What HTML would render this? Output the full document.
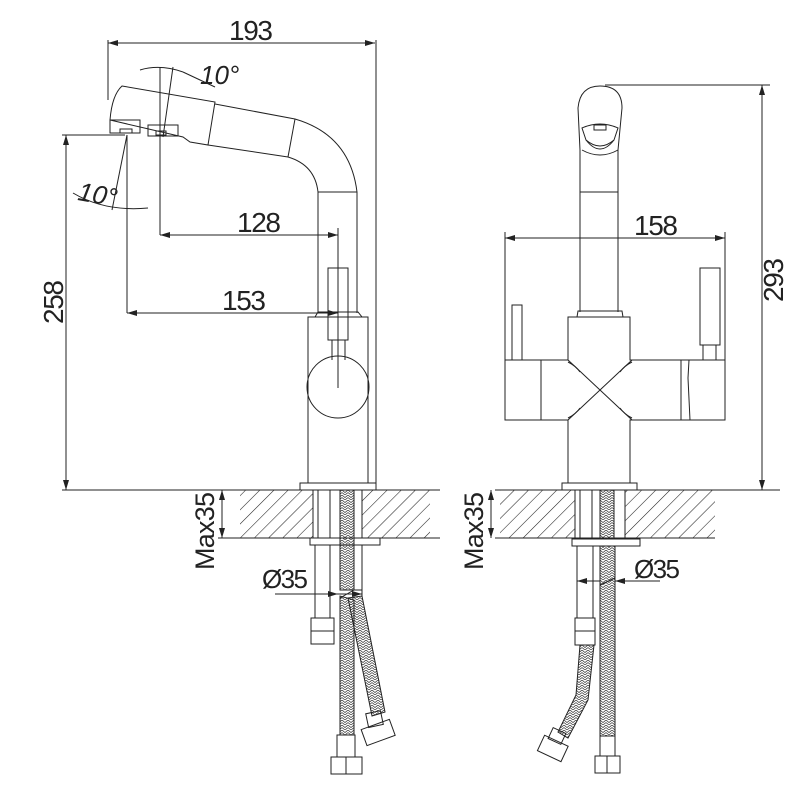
<!DOCTYPE html>
<html><head><meta charset="utf-8"><style>html,body{margin:0;padding:0;background:#fff}svg{display:block}</style></head>
<body>
<svg width="800" height="800" viewBox="0 0 800 800" xmlns="http://www.w3.org/2000/svg" font-family="'Liberation Sans', sans-serif" fill="none" stroke="#222" stroke-width="1">
<defs>
<pattern id="h" width="10" height="10" patternUnits="userSpaceOnUse" patternTransform="rotate(45)"><line x1="0" y1="0" x2="0" y2="10" stroke="#222" stroke-width="1.1"/></pattern>
<pattern id="b" width="6" height="5" patternUnits="userSpaceOnUse"><path d="M0 0 L3 2.5 L6 0 M0 2.5 L3 5 L6 2.5" stroke="#333" stroke-width="0.7" fill="none"/></pattern>
<marker id="a" viewBox="0 0 10 6" refX="10" refY="3" markerWidth="10" markerHeight="6" orient="auto-start-reverse" markerUnits="userSpaceOnUse"><path d="M0 0 L10 3 L0 6z" fill="#222" stroke="none"/></marker>
</defs>

<line x1="108" y1="43" x2="375" y2="43" marker-start="url(#a)" marker-end="url(#a)"/>
<line x1="108" y1="40" x2="108" y2="100"/>
<line x1="376" y1="40" x2="376" y2="490"/>
<line x1="66" y1="135" x2="66" y2="490" marker-start="url(#a)" marker-end="url(#a)"/>
<line x1="62" y1="135" x2="125" y2="135"/>
<line x1="62" y1="490" x2="300" y2="490"/>
<line x1="160" y1="235" x2="338" y2="235" marker-start="url(#a)" marker-end="url(#a)"/>
<line x1="160" y1="67" x2="160" y2="235"/>
<line x1="127" y1="313" x2="338" y2="313" marker-start="url(#a)" marker-end="url(#a)"/>
<line x1="127" y1="135" x2="127" y2="313"/>
<line x1="338" y1="228" x2="338" y2="388"/>
<path d="M140 70 Q160 64 183 72"/>
<path d="M183 72 L215 87"/>
<line x1="173" y1="67" x2="163" y2="137"/>
<line x1="127" y1="135" x2="112" y2="210"/>
<path d="M73 193 Q105 212 148 208"/>
<text x="200" y="84" font-size="26" font-style="italic" fill="#222" stroke="none">10°</text>
<text x="78" y="203" font-size="26" font-style="italic" fill="#222" stroke="none" transform="rotate(10 95 195)">10°</text>
<path d="M122 86 L215 102 L208 145 L190 142 L183 137 L110 120 Q112 95 122 86Z"/>
<path d="M215 104 L295 119 Q350 135 357 192 L357 313"/>
<path d="M208 145 L288 157 Q315 165 318 192 L318 313"/>
<line x1="295" y1="119" x2="288" y2="157"/>
<line x1="318" y1="192" x2="357" y2="192"/>
<rect x="110" y="120" width="30" height="13"/>
<rect x="148" y="125" width="30" height="11"/>
<rect x="120" y="129" width="12" height="4"/>
<rect x="156" y="131" width="10" height="4"/>
<rect x="328" y="268" width="20" height="72"/>
<path d="M332 340 L332 360 M345 340 L345 360"/>
<path d="M315 317 L318 312 L358 312 L362 317 Z"/>
<rect x="308" y="317" width="60" height="166"/>
<circle cx="338" cy="387" r="31"/>
<rect x="300" y="483" width="76" height="7"/>
<rect x="240" y="490" width="73" height="48" fill="url(#h)" stroke="none"/>
<rect x="362" y="490" width="68" height="48" fill="url(#h)" stroke="none"/>
<line x1="240" y1="490" x2="440" y2="490"/>
<line x1="240" y1="538" x2="440" y2="538"/>
<line x1="313" y1="490" x2="313" y2="538"/><line x1="362" y1="490" x2="362" y2="538"/>
<line x1="222" y1="490" x2="222" y2="538" marker-start="url(#a)" marker-end="url(#a)"/>
<line x1="218" y1="490" x2="240" y2="490"/><line x1="218" y1="538" x2="240" y2="538"/>
<text transform="translate(214 570) rotate(-90)" font-size="27" fill="#222" stroke="none" textLength="78">Max35</text>
<rect x="310" y="538" width="70" height="7"/>
<line x1="318" y1="490" x2="318" y2="538"/><line x1="330" y1="490" x2="330" y2="538"/>
<rect x="315" y="545" width="15" height="73"/>
<rect x="311" y="618" width="23" height="26"/>
<line x1="311" y1="631" x2="334" y2="631"/>
<rect x="340" y="490" width="14" height="100" fill="url(#b)"/>
<path d="M340 598 L354 590 L362 590" />
<path d="M340 596 L340 735 L354 735 L354 600 Z" fill="url(#b)"/>
<path d="M348 598 L362 596 L385 712 L372 716 Z" fill="url(#b)"/>
<rect x="337" y="735" width="18" height="22"/>
<rect x="331" y="757" width="31" height="17"/>
<line x1="346" y1="757" x2="346" y2="774"/>
<rect x="367" y="712" width="15" height="14" transform="rotate(-12 375 719)"/>
<rect x="363" y="724" width="30" height="17" transform="rotate(-20 378 732)"/>
<line x1="362" y1="594" x2="275" y2="594" marker-start="url(#a)"/>
<line x1="330" y1="594" x2="338" y2="594" marker-end="url(#a)"/>
<line x1="362" y1="545" x2="362" y2="597"/>
<text x="262" y="588" font-size="26" fill="#222" stroke="none" textLength="46">Ø35</text>

<text x="229" y="40" font-size="28" fill="#222" stroke="none" textLength="44">193</text>
<text x="237" y="232" font-size="28" fill="#222" stroke="none" textLength="44">128</text>
<text x="222" y="310" font-size="28" fill="#222" stroke="none" textLength="44">153</text>
<text transform="translate(63 324) rotate(-90)" font-size="28" fill="#222" stroke="none" textLength="44">258</text>

<line x1="605" y1="85" x2="770" y2="85"/>
<line x1="762" y1="85" x2="762" y2="490" marker-start="url(#a)" marker-end="url(#a)"/>
<line x1="637" y1="490" x2="780" y2="490"/>
<line x1="505" y1="238" x2="725" y2="238" marker-start="url(#a)" marker-end="url(#a)"/>
<line x1="505" y1="232" x2="505" y2="360"/><line x1="725" y1="232" x2="725" y2="360"/>
<text x="634" y="235" font-size="28" fill="#222" stroke="none" textLength="44">158</text>
<text transform="translate(783 302) rotate(-90)" font-size="28" fill="#222" stroke="none" textLength="44">293</text>
<path d="M580 150 L578 108 Q580 86 600 86 Q622 86 622 108 L618 150"/>
<path d="M582 128 Q600 120 618 128 L614 140 Q600 152 586 140 Z"/>
<path d="M586 140 Q600 158 614 140"/>
<rect x="594" y="125" width="12" height="5"/>
<path d="M582 150 Q600 160 618 150"/>
<line x1="580" y1="150" x2="580" y2="312"/><line x1="618" y1="150" x2="618" y2="312"/>
<line x1="580" y1="192" x2="618" y2="192"/>
<path d="M577 317 L578 311 L622 311 L623 317 Z"/>
<path d="M568 317 L630 317 L630 360 L725 360 L725 420 L630 420 L630 483 L568 483 L568 420 L505 420 L505 360 L568 360 Z"/>
<line x1="541" y1="360" x2="541" y2="420"/>
<line x1="681" y1="360" x2="681" y2="420"/>
<path d="M689 360 L688 378 L690 420 M689 360 L695 360"/>
<path d="M568 360 L632 420 M632 360 L568 420"/>
<path d="M568 362 Q576 366 580 372 M568 418 Q576 414 580 408 M632 362 Q624 366 620 372 M632 418 Q624 414 620 408"/>
<rect x="512" y="305" width="10" height="55"/>
<rect x="700" y="268" width="20" height="77"/>
<rect x="703" y="345" width="13" height="15"/>
<rect x="562" y="483" width="75" height="7"/>
<rect x="500" y="490" width="75" height="48" fill="url(#h)" stroke="none"/>
<rect x="625" y="490" width="90" height="48" fill="url(#h)" stroke="none"/>
<line x1="495" y1="490" x2="715" y2="490"/>
<line x1="495" y1="538" x2="715" y2="538"/>
<line x1="575" y1="490" x2="575" y2="538"/><line x1="625" y1="490" x2="625" y2="538"/>
<line x1="491" y1="490" x2="491" y2="538" marker-start="url(#a)" marker-end="url(#a)"/>
<text transform="translate(483 570) rotate(-90)" font-size="27" fill="#222" stroke="none" textLength="78">Max35</text>
<rect x="572" y="539" width="68" height="7"/>
<line x1="580" y1="490" x2="580" y2="538"/><line x1="592" y1="490" x2="592" y2="538"/>
<rect x="600" y="490" width="14" height="48" fill="url(#b)"/>
<rect x="577" y="546" width="16" height="72"/>
<rect x="575" y="618" width="20" height="27"/>
<line x1="575" y1="631" x2="595" y2="631"/>
<path d="M580 645 L594 645 L588 700 L568 738 L558 732 L576 695 Z" fill="url(#b)"/>
<rect x="550" y="730" width="14" height="12" transform="rotate(25 557 736)"/>
<rect x="540" y="740" width="26" height="17" transform="rotate(25 553 748)"/>
<rect x="600" y="546" width="15" height="190" fill="url(#b)"/>
<path d="M600 585 L615 578"/>
<rect x="600" y="736" width="15" height="20"/>
<rect x="595" y="756" width="25" height="17"/>
<line x1="607" y1="756" x2="607" y2="773"/>
<line x1="615" y1="546" x2="615" y2="585"/>
<line x1="577" y1="581" x2="592" y2="581" marker-start="url(#a)"/>
<line x1="615" y1="581" x2="660" y2="581" marker-start="url(#a)"/>
<line x1="592" y1="581" x2="600" y2="581"/>
<text x="634" y="578" font-size="26" fill="#222" stroke="none" textLength="46">Ø35</text>
</svg>
</body></html>
